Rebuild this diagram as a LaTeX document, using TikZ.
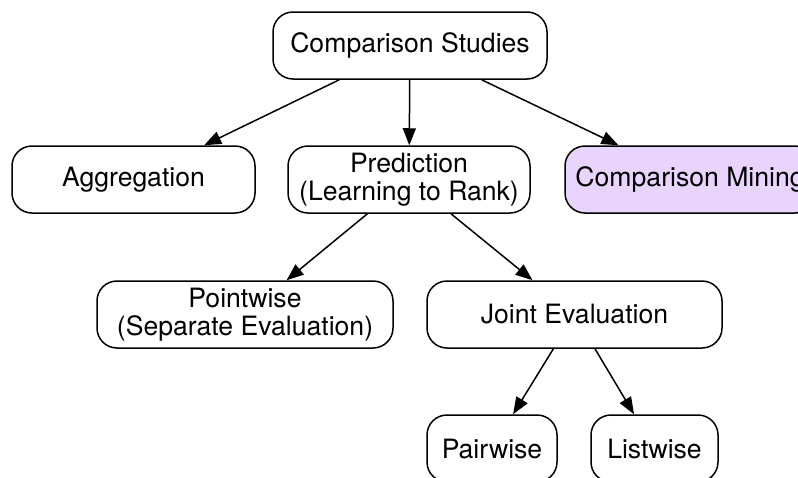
\documentclass[tikz,border=0pt]{standalone}
\usepackage{fontspec}
\setmainfont{TeX Gyre Heros}
\usetikzlibrary{arrows.meta}
\definecolor{minefill}{HTML}{E8D4FD}
\begin{document}
\begin{tikzpicture}[x=1pt,y=-1pt,
  box/.style={draw=black, line width=1.5pt, rounded corners=20pt, minimum height=67pt,
    inner sep=0pt, align=center, font=\fontsize{26.6}{28}\selectfont},
  conn/.style={line width=1.5pt, -{Triangle[length=17pt,width=13pt]}}]
\useasboundingbox (0,0) rectangle (798,477);
\clip (0,0) rectangle (798,477);
\node[box, minimum width=274pt] (cs) at (410,45.5) {Comparison Studies};
\node[box, minimum width=243pt] (agg) at (133.5,179.5) {Aggregation};
\node[box, minimum width=242pt] (pred) at (409,179.5) {Prediction\\(Learning to Rank)};
\node[box, minimum width=250pt, fill=minefill] (mine) at (690,179.5) {Comparison Mining};
\node[box, minimum width=296pt] (point) at (245,314.5) {Pointwise\\(Separate Evaluation)};
\node[box, minimum width=295pt] (joint) at (574.5,314.5) {Joint Evaluation};
\node[box, minimum width=130pt] (pair) at (492,448.5) {Pairwise};
\node[box, minimum width=127pt] (list) at (654.5,448.5) {Listwise};
\draw[conn] (cs) -- (agg);
\draw[conn] (cs) -- (pred);
\draw[conn] (cs) -- (mine);
\draw[conn] (pred) -- (point);
\draw[conn] (pred) -- (joint);
\draw[conn] (joint) -- (pair);
\draw[conn] (joint) -- (list);
\end{tikzpicture}
\end{document}
